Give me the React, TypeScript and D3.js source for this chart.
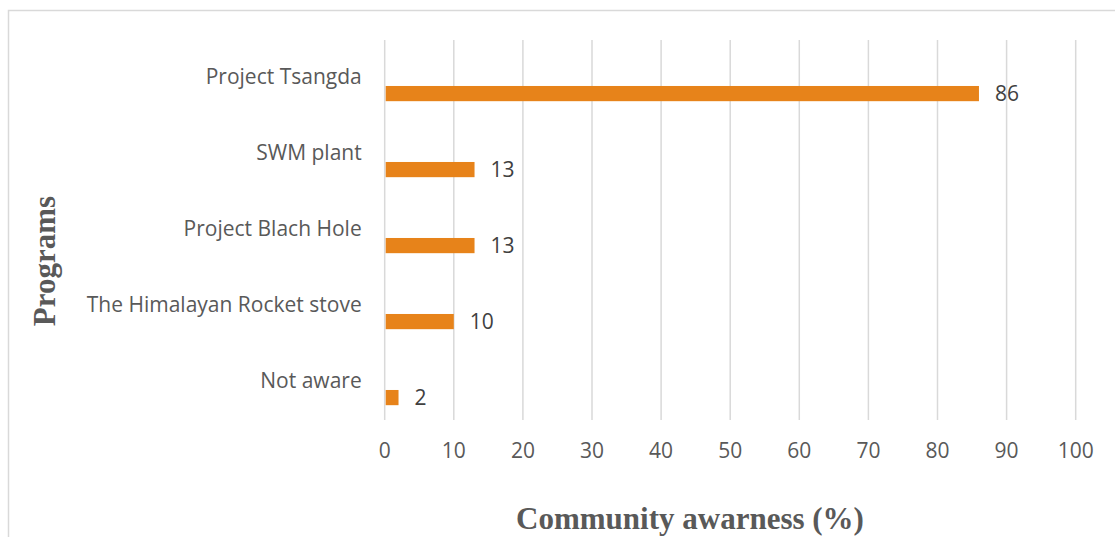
import React from "react";
import * as d3 from "d3";

const categories = ["Project Tsangda", "SWM plant", "Project Blach Hole ", "The Himalayan Rocket stove", "Not aware"];
const values = [86, 13, 13, 10, 2];
const xTicks = [0, 10, 20, 30, 40, 50, 60, 70, 80, 90, 100];
const xTitle = "Community awarness (%)";
const yTitle = "Programs";

export default function App() {
  const W = 1115, H = 537;
  const x = d3.scaleLinear().domain([0, 100]).range([384.7, 1075.7]);
  const y = d3.scaleBand<string>().domain(categories).range([40, 420]).paddingInner(0).paddingOuter(0);
  const bw = y.bandwidth();
  const sans = "'Open Sans', 'Liberation Sans', sans-serif";
  const serif = "'Liberation Serif', 'DejaVu Serif', serif";
  return (
    <svg width={W} height={H} style={{ position: "absolute", left: 0, top: 0, background: "#fff" }}>
      <rect x={8.5} y={10.5} width={W + 20} height={H + 20} fill="#fff" stroke="#d9d9d9" strokeWidth={1.5} />
      {xTicks.map((t) => (
        <line key={t} x1={x(t)} x2={x(t)} y1={40} y2={420} stroke="#d9d9d9" strokeWidth={1.5} />
      ))}
      {categories.map((c, i) => {
        const cy = (y(c) as number) + bw / 2;
        const by = cy + bw * 0.105;
        const bh = bw * 0.2;
        return (
          <g key={c}>
            <text x={361.7} y={cy - 1} dy="0.35em" textAnchor="end" fontFamily={sans} fontSize={21} fill="#595959">{c}</text>
            <rect x={x(0) + 1} y={by} width={x(values[i]) - x(0) - 1} height={bh} fill="#E7831A" />
            <text x={x(values[i]) + 16} y={by + bh / 2} dy="0.35em" fontFamily={sans} fontSize={21} fill="#404040">{values[i]}</text>
          </g>
        );
      })}
      {xTicks.map((t) => (
        <text key={"l" + t} x={x(t)} y={458} textAnchor="middle" fontFamily={sans} fontSize={21} fill="#595959">{t}</text>
      ))}
      <text x={690} y={529} textAnchor="middle" fontFamily={serif} fontWeight="bold" fontSize={31} fill="#595959">{xTitle}</text>
      <text transform={`translate(55,261) rotate(-90)`} textAnchor="middle" fontFamily={serif} fontWeight="bold" fontSize={31} fill="#595959">{yTitle}</text>
    </svg>
  );
}
